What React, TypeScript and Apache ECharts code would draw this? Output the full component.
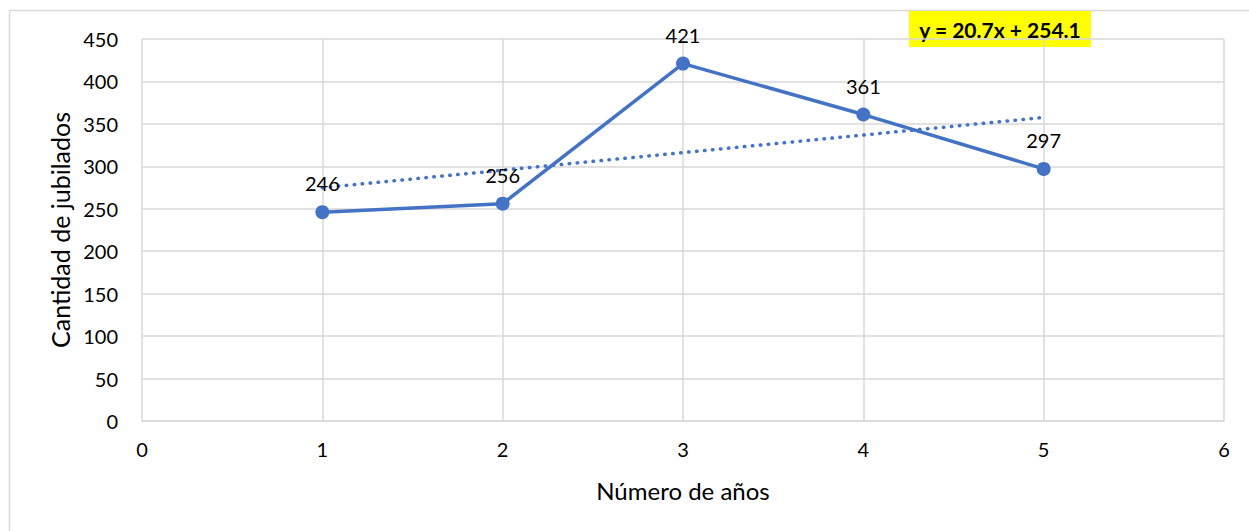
import React, { useEffect, useRef } from "react";
import * as echarts from "echarts";

const years = [1, 2, 3, 4, 5];
const retirees = [246, 256, 421, 361, 297];
const trendX = [1, 5];
const trendY = [274.8, 357.6];
const equation = "y = 20.7x + 254.1";
const xName = "Número de años";
const yName = "Cantidad de jubilados";

const FONT = "Lato, 'Open Sans', sans-serif";
const BLUE = "#4472C4";
const GRID = "#d9d9d9";

export default function App() {
  const ref = useRef<HTMLDivElement>(null);
  useEffect(() => {
    const chart = echarts.init(ref.current!, undefined, { renderer: "svg" });
    chart.setOption({
      animation: false,
      backgroundColor: "#ffffff",
      textStyle: { fontFamily: FONT },
      grid: { left: 142, right: 25, top: 39, bottom: 110 },
      xAxis: {
        type: "value",
        min: 0,
        max: 6,
        interval: 1,
        name: xName,
        nameLocation: "middle",
        nameGap: 57,
        nameTextStyle: { fontSize: 24, color: "#000", fontFamily: FONT },
        axisLine: { show: true, lineStyle: { color: GRID, width: 1.5 } },
        axisTick: { show: false },
        axisLabel: { fontSize: 20, color: "#000", margin: 18, fontFamily: FONT },
        splitLine: { show: true, lineStyle: { color: GRID, width: 1.5 } },
      },
      yAxis: {
        type: "value",
        min: 0,
        max: 450,
        interval: 50,
        name: yName,
        nameLocation: "middle",
        nameGap: 68,
        nameTextStyle: { fontSize: 25, color: "#000", fontFamily: FONT },
        axisLine: { show: false },
        axisTick: { show: false },
        axisLabel: { fontSize: 20, color: "#000", margin: 24, fontFamily: FONT },
        splitLine: { show: true, lineStyle: { color: GRID, width: 1.5 } },
      },
      series: [
        {
          type: "line",
          data: trendX.map((x, i) => [x, trendY[i]]),
          symbol: "none",
          lineStyle: { color: BLUE, width: 3.5, type: [0.5, 7.5], cap: "round" },
          z: 1,
          silent: true,
        },
        {
          type: "line",
          data: years.map((x, i) => [x, retirees[i]]),
          symbol: "circle",
          symbolSize: 14,
          itemStyle: { color: BLUE },
          lineStyle: { color: BLUE, width: 3.5 },
          label: {
            show: true,
            position: "top",
            distance: 12,
            fontSize: 20,
            color: "#000",
            fontFamily: FONT,
          },
          z: 2,
        },
      ],
      graphic: [
        {
          type: "rect",
          shape: { x: 9.5, y: 10.5, width: 1260, height: 540 },
          style: { fill: "none", stroke: GRID, lineWidth: 1.5 },
          silent: true,
        },
        {
          type: "rect",
          shape: { x: 909, y: 11, width: 182, height: 36 },
          style: { fill: "#ffff00" },
        },
        {
          type: "text",
          x: 1000,
          y: 29,
          style: {
            text: equation,
            fontSize: 21,
            fontWeight: "bold",
            fontFamily: FONT,
            fill: "#000",
            align: "center",
            verticalAlign: "middle",
          },
        },
      ],
    });
    return () => chart.dispose();
  }, []);
  return (
    <div
      ref={ref}
      style={{ position: "fixed", left: 0, top: 0, width: 1249, height: 531 }}
    />
  );
}
